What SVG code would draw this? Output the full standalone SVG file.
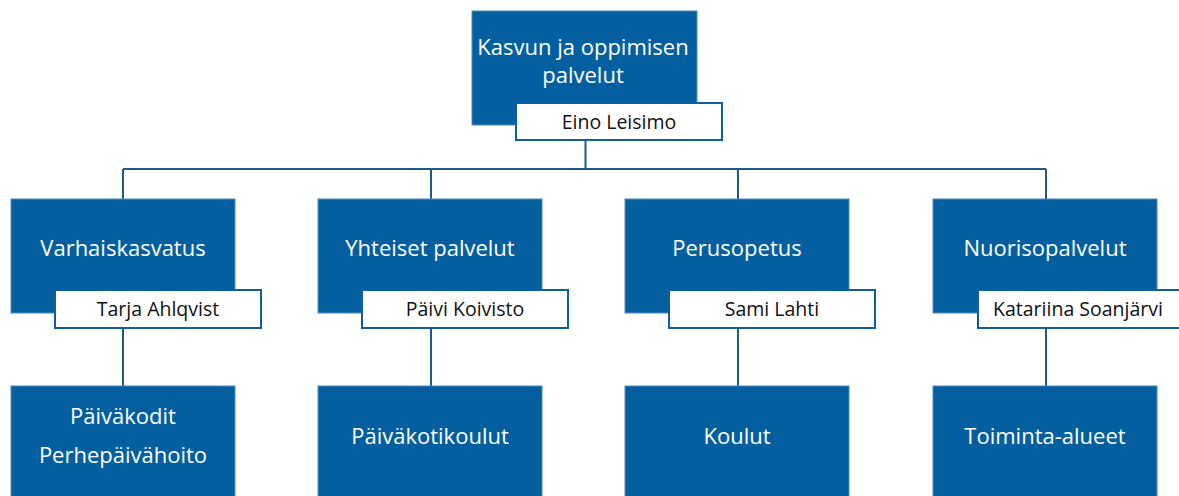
<svg xmlns="http://www.w3.org/2000/svg" width="1179" height="496" viewBox="0 0 1179 496">
<style>
.box{fill:#035fa0;stroke:#4f8cc0;stroke-width:1}
.name{fill:#ffffff;stroke:#0d5fa0;stroke-width:2}
.t{font-family:"Open Sans","Liberation Sans",sans-serif;font-size:22px;fill:#ffffff;text-anchor:middle}
.n{font-family:"Open Sans","Liberation Sans",sans-serif;font-size:19.5px;fill:#111111;text-anchor:middle}
.c{stroke:#1d5a8c;stroke-width:2;fill:none}
</style>
<rect width="1179" height="496" fill="#ffffff"/>
<g id="connectors">
<path class="c" d="M585.5 141V169M123 169H1046M123 169V199M431 169V199M738 169V199M1046 169V199M123 328V386M431 328V386M738 328V386M1046 328V386"/>
</g>
<g id="top">
<rect class="box" x="472" y="11" width="225" height="114"/>
<text class="t" x="583" y="55">Kasvun ja oppimisen</text>
<text class="t" x="583" y="83">palvelut</text>
<rect class="name" x="516" y="103" width="206" height="37"/>
<text class="n" x="619" y="129">Eino Leisimo</text>
</g>
<g id="varhaiskasvatus">
<rect class="box" x="11" y="199" width="224" height="114"/>
<text class="t" x="123" y="256">Varhaiskasvatus</text>
<rect class="name" x="55" y="290" width="206" height="38"/>
<text class="n" x="158" y="316">Tarja Ahlqvist</text>
</g>
<g id="yhteiset">
<rect class="box" x="318" y="199" width="224" height="114"/>
<text class="t" x="430" y="256">Yhteiset palvelut</text>
<rect class="name" x="362" y="290" width="206" height="38"/>
<text class="n" x="465" y="316">Päivi Koivisto</text>
</g>
<g id="perusopetus">
<rect class="box" x="625" y="199" width="224" height="114"/>
<text class="t" x="737" y="256">Perusopetus</text>
<rect class="name" x="669" y="290" width="206" height="38"/>
<text class="n" x="772" y="316">Sami Lahti</text>
</g>
<g id="nuorisopalvelut">
<rect class="box" x="933" y="199" width="224" height="114"/>
<text class="t" x="1045" y="256">Nuorisopalvelut</text>
<rect class="name" x="978" y="290" width="206" height="38"/>
<text class="n" x="1078" y="316">Katariina Soanjärvi</text>
</g>
<g id="paivakodit">
<rect class="box" x="11" y="386" width="224" height="120"/>
<text class="t" x="123" y="424">Päiväkodit</text>
<text class="t" x="123" y="463">Perhepäivähoito</text>
</g>
<g id="paivakotikoulut">
<rect class="box" x="318" y="386" width="224" height="120"/>
<text class="t" x="430" y="444">Päiväkotikoulut</text>
</g>
<g id="koulut">
<rect class="box" x="625" y="386" width="224" height="120"/>
<text class="t" x="737" y="444">Koulut</text>
</g>
<g id="toiminta">
<rect class="box" x="933" y="386" width="224" height="120"/>
<text class="t" x="1045" y="444">Toiminta-alueet</text>
</g>
</svg>
